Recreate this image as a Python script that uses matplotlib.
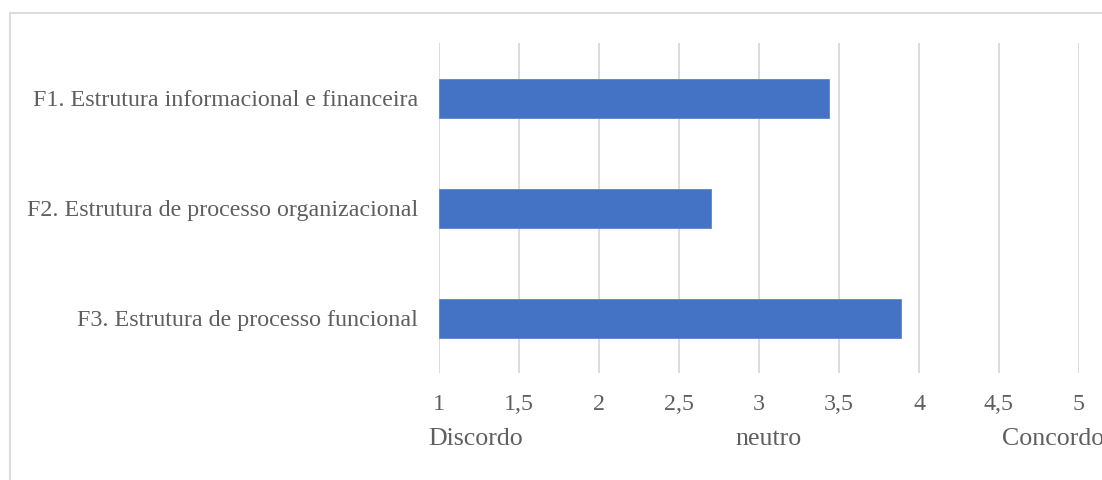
import matplotlib
matplotlib.use("Agg")
import matplotlib.pyplot as plt
from matplotlib.patches import Rectangle
from matplotlib.transforms import blended_transform_factory

# Factor means on a 1-5 agreement scale
categories = [
    "F1. Estrutura informacional e financeira",
    "F2. Estrutura de processo organizacional",
    "F3. Estrutura de processo funcional",
]
values = [3.44, 2.70, 3.885]
ticks = [1, 1.5, 2, 2.5, 3, 3.5, 4, 4.5, 5]
tick_labels = ["1", "1,5", "2", "2,5", "3", "3,5", "4", "4,5", "5"]
scale_words = ["Discordo", "neutro", "Concordo"]
scale_word_x = [0.935, 2.85, 4.52]

W, H = 1102, 480
TEXT = "#5f5f5f"
GRID = "#d9d9d9"
BAR = "#4472C4"
FS = 17.3
FS_SCALE = 18.6

plt.rcParams["font.family"] = ["Liberation Serif", "DejaVu Serif"]

fig = plt.figure(figsize=(W / 100, H / 100), dpi=100)
fig.patch.set_facecolor("white")

# outer chart frame (runs past the right and bottom edges)
fig.patches.append(Rectangle((10 / W, -0.1), 1.2, 1 - 13 / H + 0.1,
                             transform=fig.transFigure, fill=False,
                             edgecolor=GRID, linewidth=1.3))

left, right = 439 / W, 1079 / W
top, bottom = 1 - 43.3 / H, 1 - 373 / H
ax = fig.add_axes([left, bottom, right - left, top - bottom])

y = list(range(len(categories)))
ax.barh(y, [v - 1 for v in values], left=1, height=0.355, color=BAR,
        edgecolor="#5b85d0", linewidth=0.6, zorder=3)
ax.set_ylim(len(categories) - 0.5, -0.5)
ax.set_xlim(1, 5)

ax.set_yticks(y)
ax.set_yticklabels(categories, fontsize=FS, color=TEXT)
ax.set_xticks(ticks)
ax.set_xticklabels(tick_labels, fontsize=FS, color=TEXT)
ax.tick_params(axis="y", length=0, pad=15)
ax.tick_params(axis="x", length=0, pad=15)

ax.grid(axis="x", color=GRID, linewidth=1.3, zorder=0)
for s in ax.spines.values():
    s.set_visible(False)

trans = blended_transform_factory(ax.transData, fig.transFigure)
for word, xw in zip(scale_words, scale_word_x):
    ax.text(xw, 1 - 445 / H, word, transform=trans, ha="left",
            va="baseline", fontsize=FS_SCALE, color=TEXT, clip_on=False)

fig.savefig("out.png", dpi=100, facecolor="white")
